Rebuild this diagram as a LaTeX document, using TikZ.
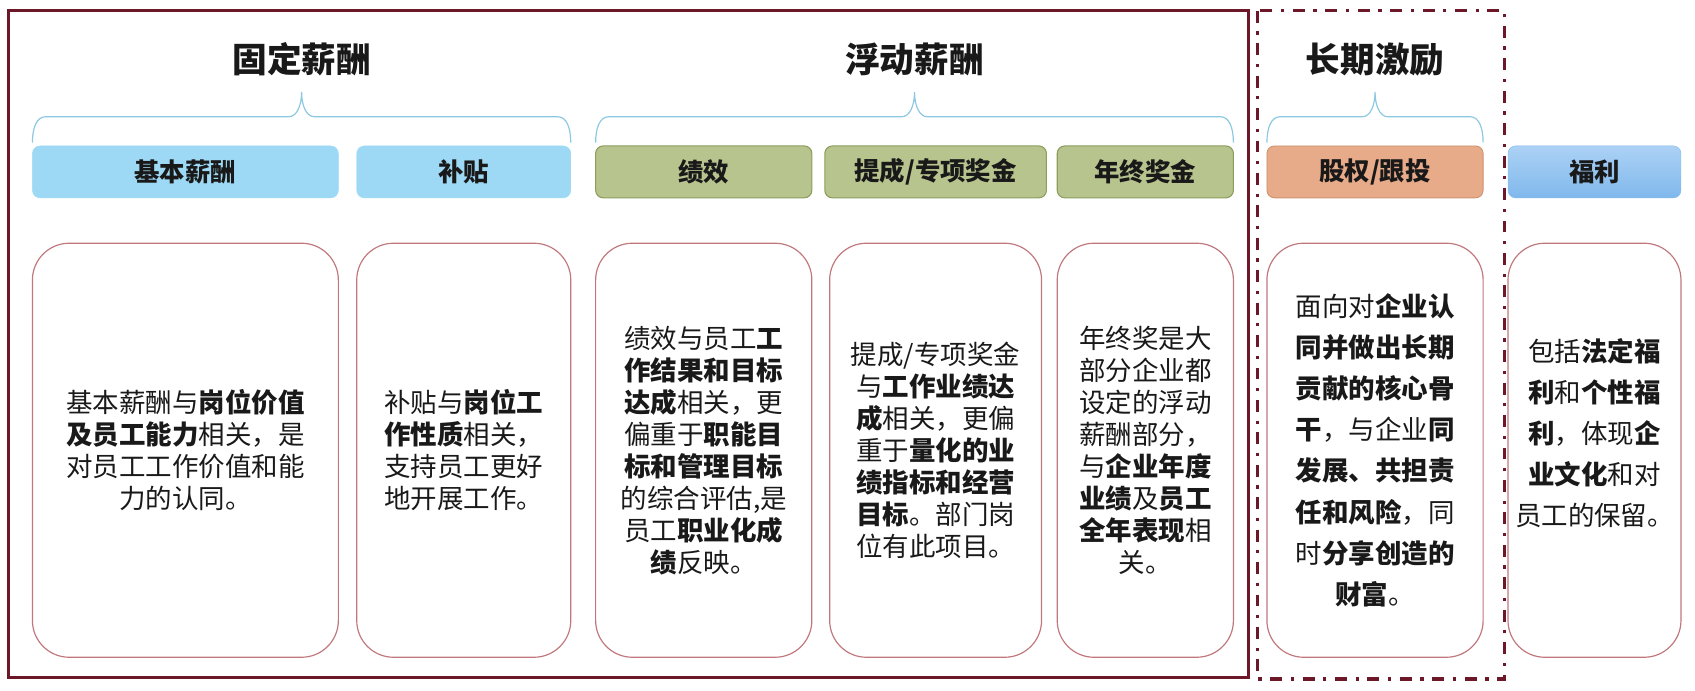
\documentclass[tikz,border=0pt]{standalone}
\usepackage{fontspec}
\setmainfont{Noto Sans CJK SC}
\usetikzlibrary{positioning,calc}

\definecolor{framered}{RGB}{108,24,40}
\definecolor{cardline}{RGB}{192,120,124}
\definecolor{bracecol}{RGB}{140,200,225}
\definecolor{headblue}{RGB}{157,217,244}
\definecolor{headgreen}{RGB}{183,196,142}
\definecolor{headgreenline}{RGB}{140,158,92}
\definecolor{headorange}{RGB}{232,171,138}
\definecolor{headorangeline}{RGB}{205,145,112}
\definecolor{skytop}{RGB}{172,210,245}
\definecolor{skybottom}{RGB}{128,184,236}

\newcommand{\headbrace}[3]{%
  \draw[bracel] ([yshift=3pt]#1.north west) coordinate (bl)
    .. controls +(0,-14) and +(-8,0) .. ++(12,-24) coordinate (bh)
    -- ([xshift=-12pt]bh -| #3)
    .. controls +(8,0) and +(0,12) .. ++(12,-23)
    .. controls +(0,12) and +(-8,0) .. ++(12,23)
    -- ([xshift=-12pt]bh -| #2.north east)
    .. controls +(8,0) and +(0,-14) .. ([yshift=3pt]#2.north east);
}

\begin{document}
\begin{tikzpicture}
  [x=1pt, y=-1pt,
   title/.style={font=\fontsize{32}{36}\selectfont\bfseries, text=black!90},
   head/.style={rounded corners=7pt, minimum height=48pt, inner sep=0pt, outer sep=0pt,
     font=\fontsize{23.5}{28}\selectfont\bfseries, text=black!90},
   hblue/.style={head, fill=headblue, draw=headblue},
   hgreen/.style={head, fill=headgreen, draw=headgreenline, line width=1pt},
   horange/.style={head, fill=headorange, draw=headorangeline, line width=0.8pt},
   hsky/.style={head, top color=skytop, bottom color=skybottom, draw=skybottom},
   card/.style={draw=cardline, line width=1.1pt, rounded corners=34pt, outer sep=0pt,
     minimum height=383pt, inner sep=0pt, align=center,
     font=\fontsize{24.5}{29.6}\selectfont, text=black!90},
   cardwide/.style={card, font=\fontsize{24.5}{38}\selectfont},
   bracel/.style={draw=bracecol, line width=1.1pt},
   frame/.style={draw=framered, line width=2.5pt}]
  \useasboundingbox (0,0) rectangle (1568,638.3);

  \node[hblue, minimum width=283pt] (hbase) at (171.5,159) {基本薪酬};
  \node[hblue, minimum width=198pt, right=17pt of hbase] (hallow) {补贴};
  \node[hgreen, minimum width=200pt, right=23pt of hallow] (hperf) {绩效};
  \node[hgreen, minimum width=205pt, right=12pt of hperf] (hcomm) {提成/专项奖金};
  \node[hgreen, minimum width=163pt, right=10pt of hcomm] (hyear) {年终奖金};
  \node[horange, minimum width=200pt, right=31pt of hyear] (hequity) {股权/跟投};
  \node[hsky, minimum width=160pt, right=23pt of hequity] (hwelfare) {福利};

  \node[card, minimum width=283pt, below=42pt of hbase] (cbase)
    {基本薪酬与\textbf{岗位价值}\\\textbf{及员工能力}相关，是\\对员工工作价值和能\\力的认同。};
  \node[card, minimum width=198pt, below=42pt of hallow] (callow)
    {补贴与\textbf{岗位工}\\\textbf{作性质}相关，\\支持员工更好\\地开展工作。};
  \node[card, minimum width=200pt, below=42pt of hperf] (cperf)
    {绩效与员工\textbf{工}\\\textbf{作结果和目标}\\\textbf{达成}相关，更\\偏重于\textbf{职能目}\\\textbf{标和管理目标}\\的综合评估,是\\员工\textbf{职业化成}\\\textbf{绩}反映。};
  \node[card, minimum width=196pt, below=42pt of hcomm] (ccomm)
    {提成/专项奖金\\与\textbf{工作业绩达}\\\textbf{成}相关，更偏\\重于\textbf{量化的业}\\\textbf{绩指标和经营}\\\textbf{目标}。部门岗\\位有此项目。};
  \node[card, minimum width=163pt, below=42pt of hyear] (cyear)
    {年终奖是大\\部分企业都\\设定的浮动\\薪酬部分，\\与\textbf{企业年度}\\\textbf{业绩}及\textbf{员工}\\\textbf{全年表现}相\\关。};
  \node[cardwide, minimum width=200pt, below=42pt of hequity] (cequity)
    {面向对\textbf{企业认}\\\textbf{同并做出长期}\\\textbf{贡献的核心骨}\\\textbf{干}，与企业\textbf{同}\\\textbf{发展、共担责}\\\textbf{任和风险}，同\\时\textbf{分享创造的}\\\textbf{财富}。};
  \node[cardwide, minimum width=160pt, below=42pt of hwelfare] (cwelfare)
    {包括\textbf{法定福}\\\textbf{利}和\textbf{个性福}\\\textbf{利}，体现\textbf{企}\\\textbf{业文化}和对\\员工的保留。\\[-4pt]};

  \node[title] (tfixed) at ($(hbase.north west)!0.5!(hallow.north east)+(0,-80)$) {固定薪酬};
  \node[title] (tfloat) at ($(hperf.north west)!0.5!(hyear.north east)+(0,-80)$) {浮动薪酬};
  \node[title] (tlong) at ($(hequity.north)+(0,-80)$) {长期激励};

  \headbrace{hbase}{hallow}{tfixed}
  \headbrace{hperf}{hyear}{tfloat}
  \headbrace{hequity}{hequity}{tlong}

  \draw[frame] (8,10) rectangle (1155,627);
  \draw[frame, line width=3pt, dash pattern=on 11pt off 8pt on 3pt off 8pt] (1163,10) rectangle (1392,628);
\end{tikzpicture}
\end{document}
